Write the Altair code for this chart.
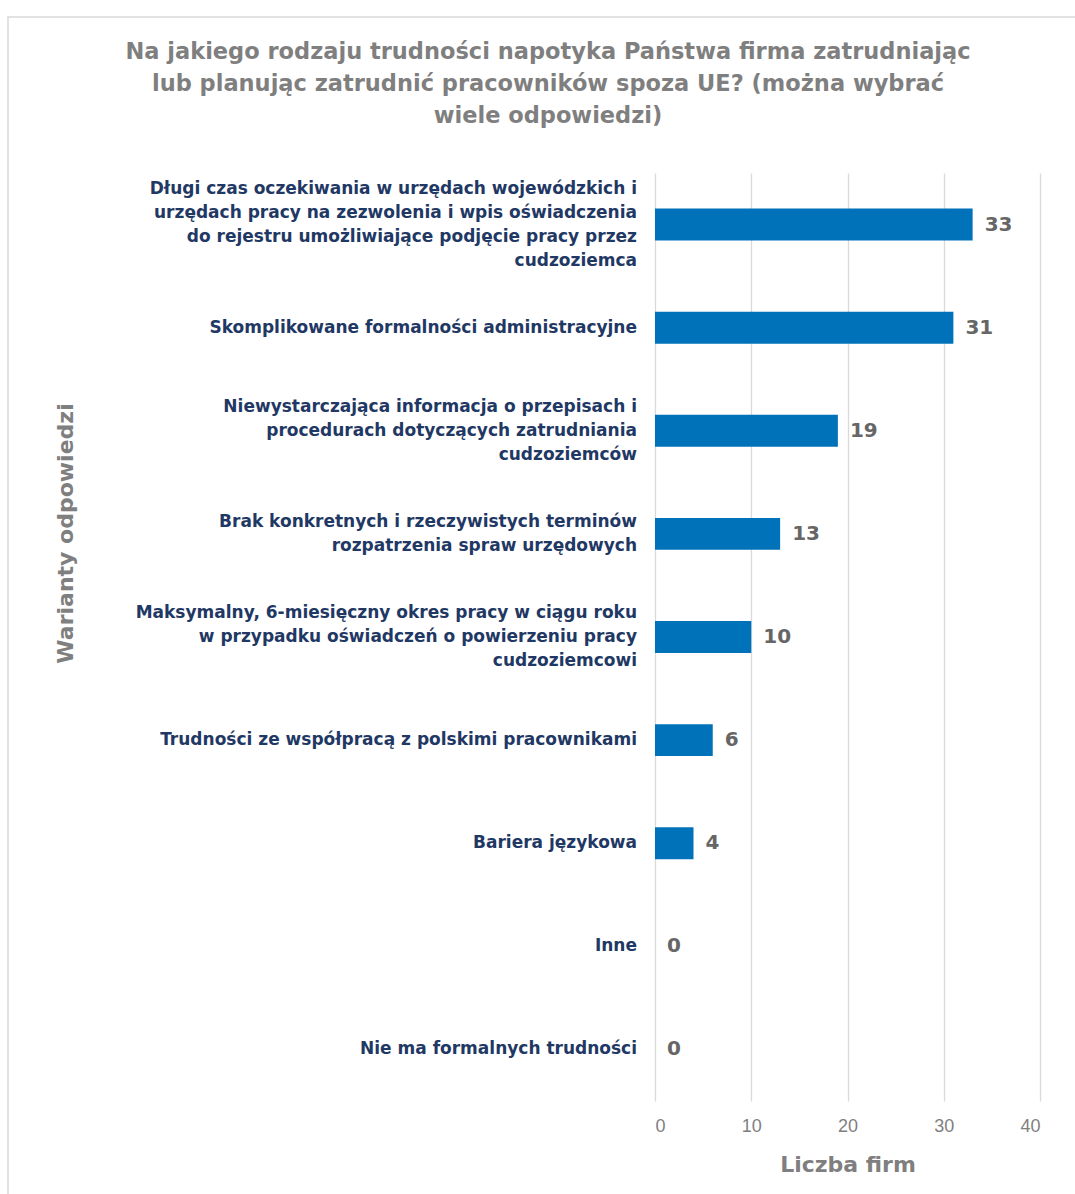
import altair as alt
import pandas as pd

title_lines = [
    "Na jakiego rodzaju trudności napotyka Państwa firma zatrudniając",
    "lub planując zatrudnić pracowników spoza UE? (można wybrać",
    "wiele odpowiedzi)",
]
categories = [
    "Długi czas oczekiwania w urzędach wojewódzkich i|urzędach pracy na zezwolenia i wpis oświadczenia|do rejestru  umożliwiające podjęcie pracy przez|cudzoziemca",
    "Skomplikowane formalności administracyjne",
    "Niewystarczająca informacja o przepisach i|procedurach dotyczących zatrudniania|cudzoziemców",
    "Brak konkretnych i rzeczywistych terminów|rozpatrzenia spraw urzędowych",
    "Maksymalny, 6-miesięczny okres pracy w ciągu roku|w przypadku oświadczeń o powierzeniu pracy|cudzoziemcowi",
    "Trudności ze współpracą z polskimi pracownikami",
    "Bariera językowa",
    "Inne",
    "Nie ma formalnych trudności",
]
values = [33, 31, 19, 13, 10, 6, 4, 0, 0]
x_ticks = [0, 10, 20, 30, 40]

LINE_H = 24
BAR_HALF = 16
df = pd.DataFrame({"cat": categories, "val": values})
df["nlines"] = df["cat"].str.count(r"\|") + 1
df["yoff"] = BAR_HALF - (df["nlines"] - 1) * LINE_H / 2

title_df = pd.DataFrame({"t": ["|".join(title_lines)]})

FONT = "DejaVu Sans"
GRAY = "#7f7f7f"
NAVY = "#1f3864"

y_enc = alt.Y(
    "cat:N",
    sort=categories,
    scale=alt.Scale(paddingInner=0.69, paddingOuter=0.345),
    axis=alt.Axis(
        title="Warianty odpowiedzi",
        labels=False,
        ticks=False,
        domain=False,
        titleFont=FONT,
        titleFontSize=22,
        titleFontWeight="bold",
        titleColor=GRAY,
        titleX=-590,
        titleY=360,
        titleAngle=-90,
        titleAlign="center",
        titleBaseline="middle",
    ),
)
x_enc = alt.X(
    "val:Q",
    scale=alt.Scale(domain=[0, 40], nice=False),
    axis=alt.Axis(
        values=x_ticks,
        title="Liczba firm",
        grid=True,
        gridColor="#d9d9d9",
        gridWidth=1.3,
        domain=False,
        ticks=False,
        labelFont="Liberation Sans",
        labelFontSize=18,
        labelColor=GRAY,
        labelPadding=16,
        titleFont=FONT,
        titleFontSize=22,
        titleFontWeight="bold",
        titleColor=GRAY,
        titlePadding=19,
    ),
)

bars = alt.Chart(df).mark_bar(color="#0072b9").encode(x=x_enc, y=y_enc)
labels = alt.Chart(df).mark_text(
    align="left", baseline="middle", dx=12, font=FONT, fontSize=20,
    fontWeight="bold", color="#666666"
).encode(x="val:Q", y=alt.Y("cat:N", sort=categories), text="val:Q")

cat_labels = alt.Chart(df).mark_text(
    align="right", baseline="middle", font=FONT, fontSize=17,
    fontWeight="bold", color=NAVY, lineBreak="|", lineHeight=LINE_H
).encode(
    x=alt.value(-18),
    y=alt.Y("cat:N", sort=categories),
    yOffset=alt.YOffset("yoff:Q", scale=None),
    text="cat:N",
)

title = alt.Chart(title_df).mark_text(
    align="center", baseline="middle", font=FONT, fontSize=22.5,
    fontWeight="bold", color=GRAY, lineBreak="|", lineHeight=32
).encode(x=alt.value(-107), y=alt.value(-121), text="t:N")

frame = alt.Chart(title_df).mark_rect(
    fill=None, stroke="#d9d9d9", strokeWidth=1.5
).encode(
    x=alt.value(-647), x2=alt.value(440), y=alt.value(-156), y2=alt.value(1100)
)

chart = (
    alt.layer(frame, bars, labels, cat_labels, title)
    .properties(
        width=385,
        height=928,
        autosize=alt.AutoSizeParams(type="none"),
        padding={"left": 655, "top": 173, "right": 35, "bottom": 93},
        background="white",
    )
    .configure_view(stroke=None)
)

chart.save("out.html", embed_options={"renderer": "svg", "actions": False})
